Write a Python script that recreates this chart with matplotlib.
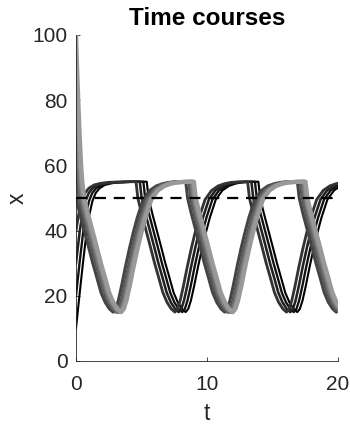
import matplotlib
matplotlib.use('Agg')
import matplotlib.pyplot as plt
import numpy as np

plt.rcParams['font.family'] = ['Liberation Sans', 'DejaVu Sans']

# starting values of the time courses
x0_values = [10, 20, 30, 40, 50, 60, 70, 80, 90, 100]
threshold = 50
t_limits = [0, 20]

fall_t = [0, 0.08, 0.17, 0.27, 0.39, 0.48, 0.62, 0.92, 1.25, 1.58, 1.9, 2.22, 2.53, 2.85, 3.17, 3.45]
fall_x = [100, 90, 80, 70, 60, 55, 50, 45, 40, 35, 30, 25.5, 21, 18, 16, 15]

# first rise of the low starting courses (time since x=10, value)
rise0_t = [0, 0.26, 0.53, 0.82, 1.0, 1.25, 1.5, 1.8, 2.2, 2.7, 3.3, 4.0, 4.7, 5.4]
rise0_x = [10, 20, 30, 40, 44.5, 49, 51.5, 53, 54, 54.5, 54.8, 54.9, 55, 55]

# rise on the cycle (time since the trough, value)
rise_t = [0, 0.2, 0.4, 0.65, 0.95, 1.25, 1.55, 1.85, 2.3, 2.8, 3.3, 3.8, 4.3, 4.9, 5.55]
rise_x = [15, 16, 18.5, 23, 29, 34.5, 39.5, 44, 49.5, 52.3, 53.7, 54.4, 54.8, 54.95, 55]


def piece(tab_t, tab_x, start_x, t0):
    i = tab_x.index(start_x)
    tt = np.array(tab_t[i:]) - tab_t[i] + t0
    return list(tt), list(tab_x[i:])


def time_course(x0):
    if x0 < threshold:
        t, x = piece(rise0_t, rise0_x, x0, 0)
        falling = True
    else:
        t, x = piece(fall_t, fall_x, x0, 0)
        falling = False
    while t[-1] < t_limits[1]:
        if falling:
            tt, xx = piece(fall_t, fall_x, 55, t[-1])
        else:
            tt, xx = piece(rise_t, rise_x, 15, t[-1])
        t += tt[1:]
        x += xx[1:]
        falling = not falling
    return t, x


fig = plt.figure(figsize=(3.5, 4.26), dpi=100)
ax = fig.add_axes([76 / 350, 65 / 426, 262 / 350, 326 / 426])

n = len(x0_values)
for k, x0 in enumerate(x0_values):
    t, x = time_course(x0)
    g = 0.6 * k / (n - 1)
    ax.plot(t, x, color=(g, g, g), lw=1.5 + 1.6 * k / (n - 1),
            solid_joinstyle='round')

ax.plot(t_limits, [threshold, threshold], color='black', lw=1.6, dashes=(5, 3.5), zorder=5)

ax.set_xlim(t_limits)
ax.set_ylim(0, 100)
ax.set_xticks([0, 10, 20])
ax.set_yticks([0, 20, 40, 60, 80, 100])
for s in ['top', 'right']:
    ax.spines[s].set_visible(False)
for s in ['left', 'bottom']:
    ax.spines[s].set_color('#262626')
    ax.spines[s].set_linewidth(0.6)
ax.tick_params(direction='in', length=3, width=0.6, colors='#262626', labelsize=15)
ax.tick_params(axis='x', pad=10)
ax.tick_params(axis='y', pad=6)

ax.set_xlabel('t', fontsize=16.5, color='#262626', labelpad=6)
ax.set_ylabel('x', fontsize=16.5, color='#262626', labelpad=3)
ax.set_title('Time courses', fontsize=17.5, fontweight='bold', pad=7)

fig.savefig('out.png', dpi=100)
